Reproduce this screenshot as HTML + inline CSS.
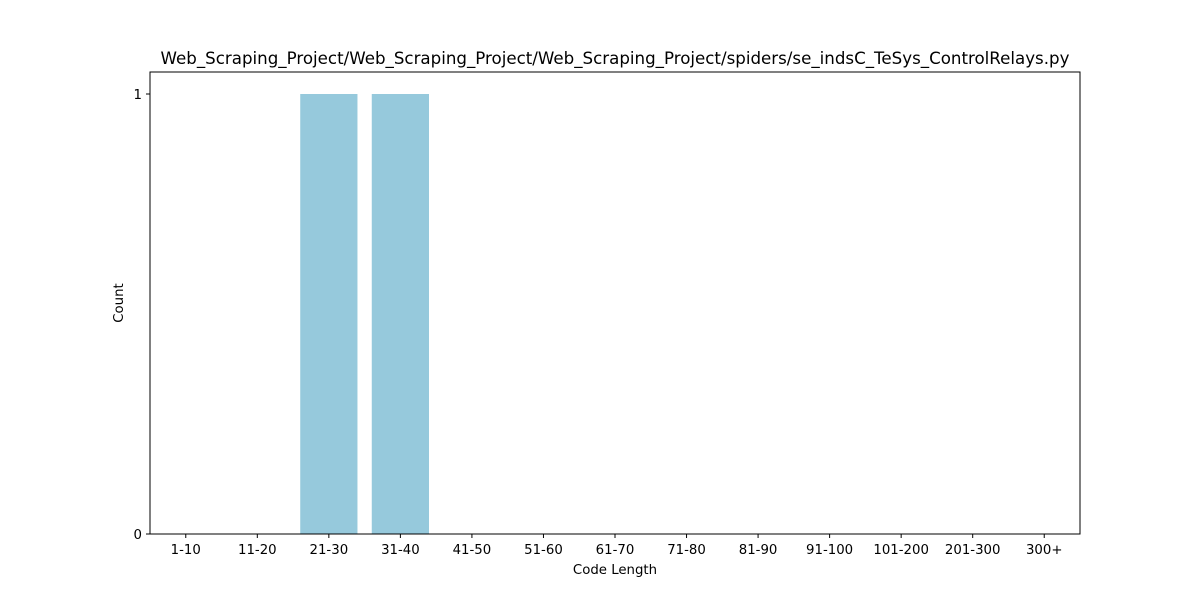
<!DOCTYPE html>
<html><head><meta charset="utf-8"><style>
body{margin:0;background:#fff;}
svg{font-family:"DejaVu Sans","Liberation Sans",sans-serif;}
</style></head><body>
<svg id="chart" width="1200" height="600">
<rect width="1200" height="600" fill="#fff"/>
<text x="615" y="64" text-anchor="middle" font-size="16.67">Web_Scraping_Project/Web_Scraping_Project/Web_Scraping_Project/spiders/se_indsC_TeSys_ControlRelays.py</text>
<g id="bars"></g>
<g id="xticks"></g>
<g id="yticks"></g>
<rect x="150" y="72" width="930" height="462" fill="none" stroke="#000" stroke-width="1"/>
<text x="615" y="574" text-anchor="middle" font-size="13.3">Code Length</text>
<text x="123" y="303" text-anchor="middle" font-size="13.3" transform="rotate(-90 123 303)">Count</text>
</svg>
<script>
const categories = ["1-10","11-20","21-30","31-40","41-50","51-60","61-70","71-80","81-90","91-100","101-200","201-300","300+"];
const counts = [0,0,1,1,0,0,0,0,0,0,0,0,0];
const yTicks = [0,1];
const NS="http://www.w3.org/2000/svg";
const L=150,R=1080,T=72,B=534;
const xmin=-0.5,xmax=categories.length-0.5,ymin=0,ymax=1.05;
const xs=v=>L+(v-xmin)/(xmax-xmin)*(R-L);
const ys=v=>B-(v-ymin)/(ymax-ymin)*(B-T);
const bars=document.getElementById('bars'),xt=document.getElementById('xticks'),yt=document.getElementById('yticks');
function mk(t,a){const e=document.createElementNS(NS,t);for(const k in a)e.setAttribute(k,a[k]);return e;}
categories.forEach((c,i)=>{
  const x0=xs(i-0.4),x1=xs(i+0.4);
  const r=mk('rect',{x:x0,y:ys(counts[i]),width:x1-x0,height:ys(0)-ys(counts[i]),fill:'#96c9dc'});
  
  
  bars.appendChild(r);
  const tk=mk('line',{x1:xs(i),x2:xs(i),y1:B,y2:B+4,stroke:'#000'});
  
  
  xt.appendChild(tk);
  const t=mk('text',{x:xs(i),y:B+20,'text-anchor':'middle','font-size':'13.3'});
  t.textContent=c;
  
  
  xt.appendChild(t);
});
yTicks.forEach(v=>{
  const tk=mk('line',{x1:L-4,x2:L,y1:ys(v),y2:ys(v),stroke:'#000'});
  
  
  yt.appendChild(tk);
  const t=mk('text',{x:L-8,y:ys(v)+5,'text-anchor':'end','font-size':'13.3'});
  t.textContent=v;
  
  
  yt.appendChild(t);
});
</script>
</body></html>
